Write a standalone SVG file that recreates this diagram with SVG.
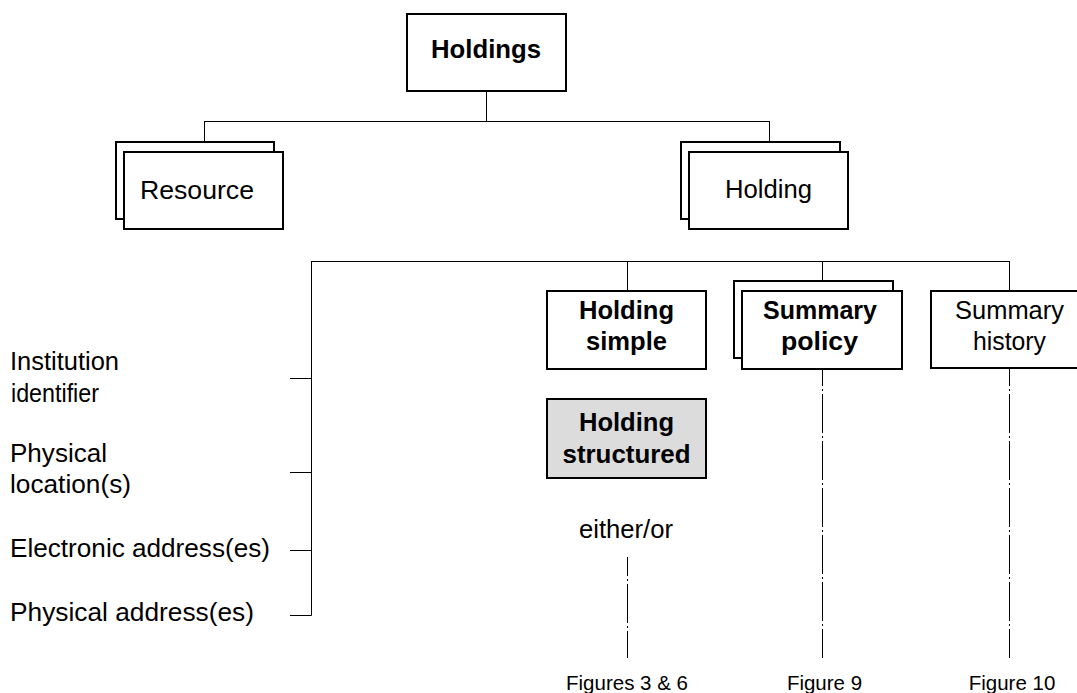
<svg xmlns="http://www.w3.org/2000/svg" width="1077" height="693" viewBox="0 0 1077 693">
<style>
.box{fill:#fff;stroke:#000;stroke-width:2}
.shade{fill:#dcdcdc;stroke:#000;stroke-width:2}
.ln{fill:none;stroke:#000;stroke-width:1}
.dd{fill:none;stroke:#000;stroke-width:1;stroke-dasharray:39 3 2 3}
text{font-family:"Liberation Sans",Arial,sans-serif;fill:#000}
.b{font-weight:bold}
.m{text-anchor:middle}
.fig{font-size:20.5px}
</style>
<rect width="1077" height="693" fill="#fff"/>
<g id="connectors">
<path class="ln" d="M486.5 91V121.5M204 121.5H769.5M204.5 121V142M769.5 121V142"/>
<path class="ln" d="M311.5 261.5H1009.5M311.5 261V615.5M290 378.5H311.5M290 472.5H311.5M290 550.5H311.5M290 615.5H311.5"/>
<path class="ln" d="M627.5 261V291M822.5 261V281M1009.5 261V291"/>
<path class="dd" d="M822.5 369V658" stroke-dashoffset="22"/>
<path class="dd" d="M1009.5 369V658" stroke-dashoffset="22"/>
<path class="dd" d="M627.5 557V658" stroke-dashoffset="20"/>
</g>
<g id="holdings">
<rect class="box" x="407" y="14" width="159" height="77"/>
<text class="b m" x="486" y="58" font-size="26" textLength="110" lengthAdjust="spacingAndGlyphs">Holdings</text>
</g>
<g id="resource">
<rect class="box" x="116" y="142" width="158" height="77"/>
<rect class="box" x="124" y="152" width="159" height="77"/>
<text class="m" x="197" y="199" font-size="26" textLength="114" lengthAdjust="spacingAndGlyphs">Resource</text>
</g>
<g id="holding">
<rect class="box" x="681" y="142" width="159" height="77"/>
<rect class="box" x="689" y="152" width="159" height="77"/>
<text class="m" x="768.5" y="197.5" font-size="26" textLength="87" lengthAdjust="spacingAndGlyphs">Holding</text>
</g>
<g id="holding-simple">
<rect class="box" x="547" y="291" width="159" height="78"/>
<text class="b m" x="626.5" y="319" font-size="25" textLength="95" lengthAdjust="spacingAndGlyphs">Holding</text>
<text class="b m" x="626.5" y="350" font-size="25" textLength="81" lengthAdjust="spacingAndGlyphs">simple</text>
</g>
<g id="holding-structured">
<rect class="shade" x="547" y="399" width="159" height="79"/>
<text class="b m" x="626.5" y="431" font-size="25" textLength="95" lengthAdjust="spacingAndGlyphs">Holding</text>
<text class="b m" x="626.5" y="463" font-size="25" textLength="128" lengthAdjust="spacingAndGlyphs">structured</text>
</g>
<g id="summary-policy">
<rect class="box" x="734" y="281" width="159" height="77"/>
<rect class="box" x="742" y="291" width="160" height="78"/>
<text class="b m" x="820" y="319" font-size="25" textLength="114" lengthAdjust="spacingAndGlyphs">Summary</text>
<text class="b m" x="819.5" y="350" font-size="25" textLength="77" lengthAdjust="spacingAndGlyphs">policy</text>
</g>
<g id="summary-history">
<rect class="box" x="931" y="291" width="159" height="77"/>
<text class="m" x="1009.5" y="319" font-size="25" textLength="109" lengthAdjust="spacingAndGlyphs">Summary</text>
<text class="m" x="1009.5" y="350" font-size="25" textLength="73" lengthAdjust="spacingAndGlyphs">history</text>
</g>
<g id="labels">
<text x="10" y="370" font-size="26" textLength="109" lengthAdjust="spacingAndGlyphs">Institution</text>
<text x="11" y="402" font-size="26" textLength="88" lengthAdjust="spacingAndGlyphs">identifier</text>
<text x="10" y="462" font-size="26" textLength="97" lengthAdjust="spacingAndGlyphs">Physical</text>
<text x="10" y="493" font-size="26" textLength="121" lengthAdjust="spacingAndGlyphs">location(s)</text>
<text x="10" y="557" font-size="26" textLength="260" lengthAdjust="spacingAndGlyphs">Electronic address(es)</text>
<text x="10" y="621" font-size="26" textLength="244" lengthAdjust="spacingAndGlyphs">Physical address(es)</text>
<text class="m" x="626" y="538" font-size="26" textLength="94" lengthAdjust="spacingAndGlyphs">either/or</text>
<text class="m fig" x="627" y="690">Figures 3 &amp; 6</text>
<text class="m fig" x="824.5" y="690">Figure 9</text>
<text class="m fig" x="1012" y="690">Figure 10</text>
</g>
</svg>
